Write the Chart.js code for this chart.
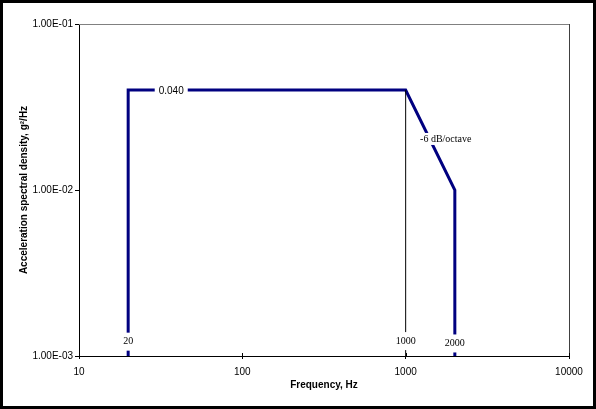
<!DOCTYPE html>
<html>
<head>
<meta charset="utf-8">
<script src="https://cdn.jsdelivr.net/npm/chart.js@4"></script>
<style>
  body { margin: 0; background: #fff; }
  #wrap { width: 596px; height: 409px; position: relative; }
</style>
</head>
<body>
<div id="wrap"><canvas id="grafico"></canvas></div>
<script>
// Perfil de densidade espectral (frequência x ASD)
const frequencias = [20, 20, 1000, 2000, 2000];
const densidades = [0.001, 0.04, 0.04, 0.01, 0.001];

// Linha vertical de referência em 1000 Hz
const refFreq = [1000, 1000];
const refDens = [0.001, 0.04];

// Ticks dos eixos
const xTicks = [10, 100, 1000, 10000];
const xTickLabels = ['10', '100', '1000', '10000'];
const yTicks = [0.001, 0.01, 0.1];
const yTickLabels = ['1.00E-03', '1.00E-02', '1.00E-01'];

// Rótulos dentro do gráfico
const notaTexto = ['20', '1000', '2000', '0.040', '-6 dB/octave'];
const notaFreq = [20, 1000, 2000, 36.7, 1760];
const notaDens = [0.00122, 0.00123, 0.00119, 0.0392, 0.0203];
const notaSerif = [true, true, true, false, true];

const pontos = (xs, ys) => xs.map((x, i) => ({ x: x, y: ys[i] }));

// Plugin: moldura externa, bordas da área e rótulos
const extras = {
    id: 'extras',
    beforeDraw(chart) {
        const ctx = chart.ctx;
        ctx.save();
        ctx.fillStyle = '#fff';
        ctx.fillRect(0, 0, chart.width, chart.height);
        ctx.restore();
    },
    afterDatasetsDraw(chart) {
        const ctx = chart.ctx;
        const a = chart.chartArea;
        const sx = chart.scales.x, sy = chart.scales.y;
        ctx.save();
        // borda superior e direita da área de plotagem
        ctx.strokeStyle = '#808080';
        ctx.lineWidth = 1;
        ctx.beginPath();
        ctx.moveTo(a.left, a.top + 0.5);
        ctx.lineTo(a.right, a.top + 0.5);
        ctx.stroke();
        ctx.strokeStyle = '#404040';
        ctx.beginPath();
        ctx.moveTo(a.right + 0.5, a.top);
        ctx.lineTo(a.right + 0.5, a.bottom);
        ctx.stroke();
        // ticks do eixo x atravessando o eixo
        ctx.strokeStyle = '#000';
        xTicks.forEach(v => {
            const px = Math.round(sx.getPixelForValue(v)) + 0.5;
            ctx.beginPath();
            ctx.moveTo(px, a.bottom - 3);
            ctx.lineTo(px, a.bottom);
            ctx.stroke();
        });
        // rótulos
        ctx.textAlign = 'center';
        ctx.textBaseline = 'middle';
        notaTexto.forEach((t, i) => {
            ctx.font = notaSerif[i] ? '10px "Liberation Serif", "Times New Roman", serif'
                                    : '10px "Liberation Sans", Arial, sans-serif';
            const px = sx.getPixelForValue(notaFreq[i]);
            const py = sy.getPixelForValue(notaDens[i]);
            const w = ctx.measureText(t).width;
            ctx.fillStyle = '#fff';
            if (i < 3) {
                ctx.fillRect(px - w / 2 - 2, py - 9, w + 4, 18);
            } else {
                ctx.fillRect(px - w / 2 - 4, py - 6, w + 8, 12);
            }
            ctx.fillStyle = '#000';
            ctx.fillText(t, px, py);
        });
        ctx.restore();
        // moldura externa
        ctx.save();
        ctx.strokeStyle = '#000';
        ctx.lineWidth = 3;
        ctx.strokeRect(1.5, 1.5, chart.width - 3, chart.height - 3);
        ctx.restore();
    }
};

const fonteEixo = { family: '"Liberation Sans", Arial, sans-serif', size: 10 };
const fonteTitulo = { family: '"Liberation Sans", Arial, sans-serif', size: 10, weight: 'bold' };

new Chart(document.getElementById('grafico'), {
    type: 'scatter',
    data: {
        datasets: [{
            data: pontos(refFreq, refDens),
            showLine: true,
            borderColor: '#000',
            borderWidth: 1,
            pointRadius: 0
        }, {
            data: pontos(frequencias, densidades),
            showLine: true,
            borderColor: '#000080',
            borderWidth: 3,
            pointRadius: 0,
            borderJoinStyle: 'miter'
        }]
    },
    options: {
        responsive: true,
        maintainAspectRatio: false,
        animation: false,
        layout: { padding: { top: 24, right: 27, left: 0, bottom: 0 } },
        plugins: { legend: { display: false }, tooltip: { enabled: false } },
        scales: {
            x: {
                type: 'logarithmic',
                min: 10,
                max: 10000,
                afterBuildTicks: (s) => { s.ticks = xTicks.map(v => ({ value: v })); },
                afterFit: (s) => { s.height = 53; },
                ticks: {
                    color: '#000',
                    font: fonteEixo,
                    padding: 7,
                    maxRotation: 0,
                    autoSkip: false,
                    callback: (v, i) => xTickLabels[i]
                },
                grid: { drawOnChartArea: false, drawTicks: true, tickLength: 3, color: '#000' },
                border: { color: '#000', width: 1 },
                title: { display: true, text: 'Frequency, Hz', color: '#000', font: fonteTitulo, padding: { top: 0, bottom: 18 } }
            },
            y: {
                type: 'logarithmic',
                min: 0.001,
                max: 0.1,
                afterBuildTicks: (s) => { s.ticks = yTicks.map(v => ({ value: v })); },
                afterFit: (s) => { s.width = 79; },
                ticks: {
                    color: '#000',
                    font: fonteEixo,
                    padding: 2,
                    autoSkip: false,
                    callback: (v, i) => yTickLabels[i]
                },
                grid: { drawOnChartArea: false, drawTicks: true, tickLength: 4, color: '#000' },
                border: { color: '#000', width: 1 },
                title: { display: true, text: 'Acceleration spectral density, g²/Hz', color: '#000', font: fonteTitulo, padding: { top: 18, bottom: 0 } }
            }
        }
    },
    plugins: [extras]
});
</script>
</body>
</html>
